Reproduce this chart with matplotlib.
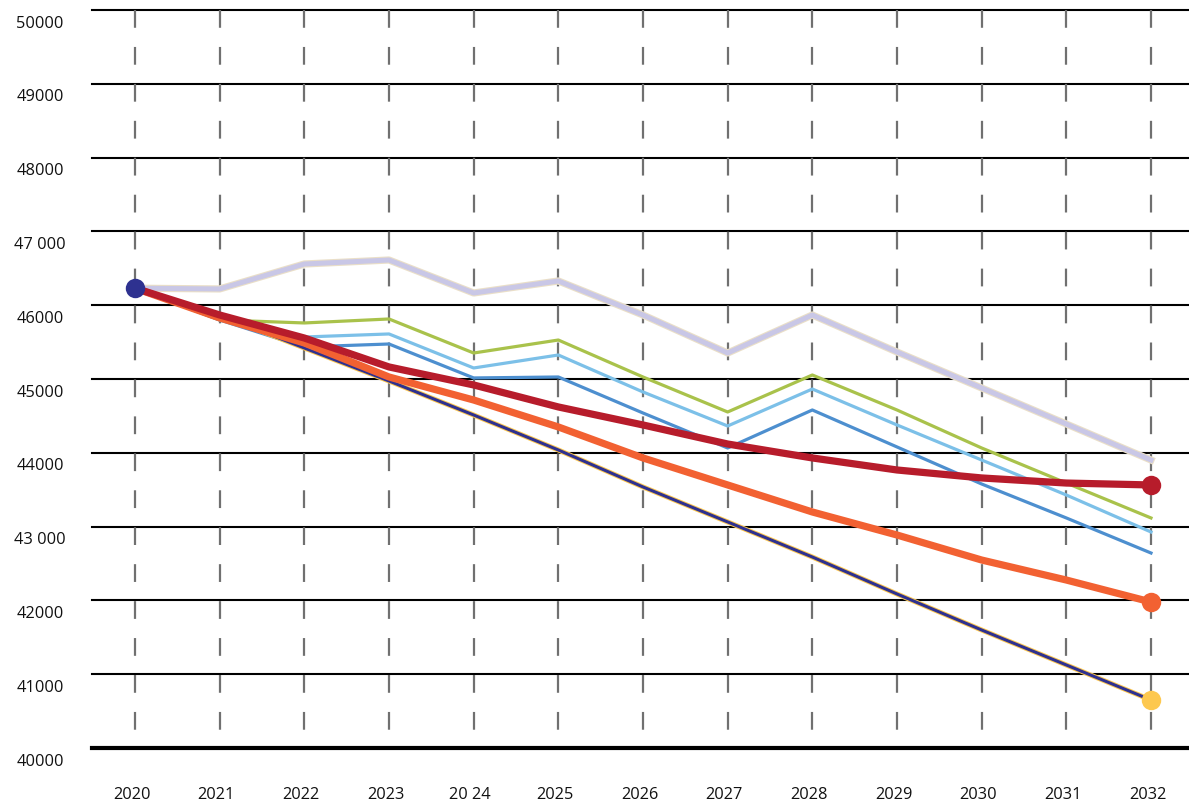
import matplotlib
matplotlib.use("Agg")
import matplotlib.pyplot as plt
import matplotlib.patheffects as pe

plt.rcParams['font.family'] = ['Open Sans', 'DejaVu Sans']
plt.rcParams['lines.scale_dashes'] = False

years = [2020, 2021, 2022, 2023, 2024, 2025, 2026, 2027, 2028, 2029, 2030, 2031, 2032]
year_labels = ["2020", "2021", "2022", "2023", "20 24", "2025", "2026", "2027", "2028",
               "2029", "2030", "2031", "2032"]
y_ticks = [40000, 41000, 42000, 43000, 44000, 45000, 46000, 47000, 48000, 49000, 50000]
y_labels = ["40000", "41000", "42000", "43 000", "44000", "45000", "46000", "47 000",
            "48000", "49000", "50000"]

lavender = [46230, 46220, 46558, 46612, 46165, 46328, 45867, 45352, 45867, 45366, 44878, 44390, 43902]
green = [46230, 45800, 45759, 45813, 45352, 45528, 45027, 44553, 45054, 44580, 44065, 43590, 43117]
lightblue = [46230, 45800, 45569, 45610, 45149, 45325, 44824, 44363, 44864, 44377, 43902, 43428, 42927]
blue = [46230, 45800, 45434, 45474, 45014, 45027, 44539, 44065, 44580, 44079, 43577, 43117, 42642]
red = [46230, 45867, 45555, 45163, 44919, 44621, 44377, 44119, 43930, 43767, 43659, 43590, 43564]
orange = [46230, 45827, 45488, 45027, 44715, 44350, 43930, 43564, 43198, 42886, 42547, 42276, 41978]
navy = [46230, 45867, 45420, 44973, 44512, 44038, 43537, 43063, 42588, 42087, 41599, 41125, 40650]

fig = plt.figure(figsize=(11.89, 8.08), dpi=100)
ax = fig.add_axes([92 / 1189, 60 / 808, 1097 / 1189, 748 / 808])
ax.set_xlim(2019.492, 2032.449)
ax.set_ylim(40000, 50135)
for s in ax.spines.values():
    s.set_visible(False)
ax.set_xticks([])
ax.set_yticks([])

# horizontal gridlines
for v in y_ticks:
    ax.axhline(v, color='black', lw=3.0 if v == 40000 else 1.5, zorder=1, clip_on=False)

# vertical dashed lines
for yr in years:
    ax.plot([yr, yr], [50000, 40000], color='#707070', lw=1.6,
            linestyle=(0, (12.8, 13.8)), zorder=2, solid_capstyle='butt',
            dash_capstyle='butt')

# lavender with beige outline
ax.plot(years, lavender, color='#c9c7e6', lw=3.6, zorder=3,
        path_effects=[pe.Stroke(linewidth=5.2, foreground='#eadfc8'), pe.Normal()])
ax.plot(years, green, color='#a9c24b', lw=2.3, zorder=4)
ax.plot(years, lightblue, color='#7cc0e8', lw=2.3, zorder=4)
ax.plot(years, blue, color='#4d8fcf', lw=2.3, zorder=4)
ax.plot(years, navy, color='#2e3190', lw=2.2, zorder=5,
        path_effects=[pe.Stroke(linewidth=3.6, foreground='#fcc64d'), pe.Normal()])
ax.plot(years, orange, color='#f26132', lw=5.2, zorder=6, solid_capstyle='butt')
ax.plot(years, red, color='#b71c2b', lw=5.2, zorder=7, solid_capstyle='butt')

# end / start dots
ax.plot(years[-1], navy[-1], 'o', color='#fdc84f', ms=14, mec='none', zorder=8)
ax.plot(years[-1], orange[-1], 'o', color='#f26132', ms=14, mec='none', zorder=8)
ax.plot(years[-1], red[-1], 'o', color='#b71c2b', ms=14, mec='none', zorder=8)
ax.plot(years[0], navy[0], 'o', color='#2e3190', ms=14, mec='none', zorder=9)

# y labels (placed below each gridline)
ytr = ax.get_yaxis_transform()
for v, lab in zip(y_ticks, y_labels):
    ax.text(-0.0474, v - 185, lab, transform=ytr, ha='center', va='center',
            fontsize=11.8, color='#111111', clip_on=False)

# x labels
xtr = ax.get_xaxis_transform()
for yr, lab in zip(years, year_labels):
    ax.text(yr - 0.04, -0.063, lab, transform=xtr, ha='center', va='center',
            fontsize=11.8, color='#111111', clip_on=False)

fig.savefig('out.png', dpi=100, facecolor='white')
